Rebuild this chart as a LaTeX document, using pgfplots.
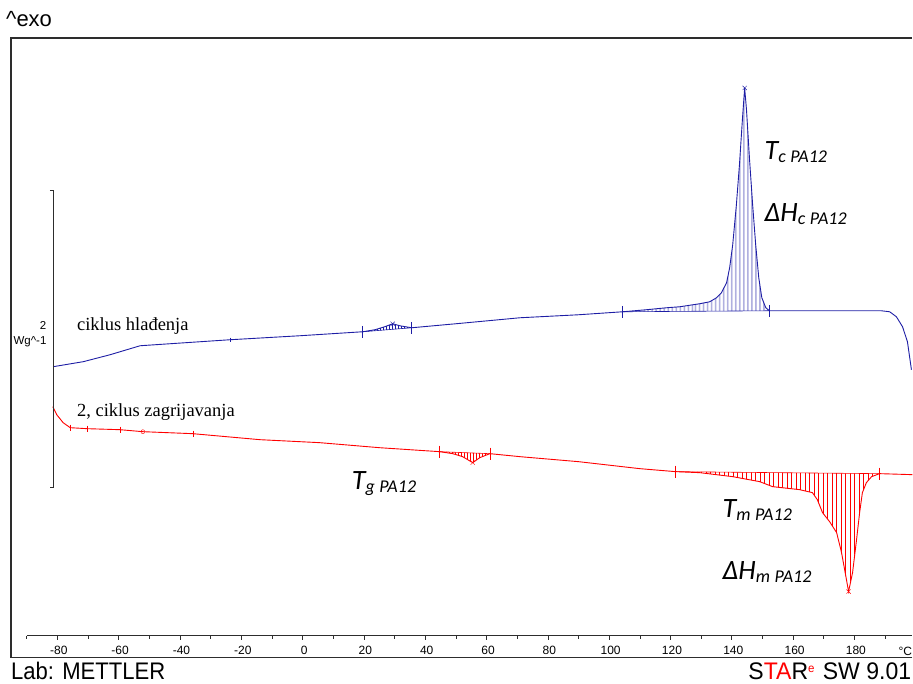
\documentclass[border=0pt]{standalone}
\usepackage{pgfplots}
\pgfplotsset{compat=1.18}
\usepgfplotslibrary{fillbetween}
\usetikzlibrary{patterns.meta}
\usepackage{graphicx}
\usepackage{fontspec}
\setmainfont{Liberation Sans}
\newfontfamily\serifl{Liberation Serif}
\newfontfamily\carlito{Carlito}
\definecolor{dscblue}{RGB}{30,30,165}
\definecolor{dscred}{RGB}{255,0,0}
\definecolor{framegray}{RGB}{45,45,45}
\newcommand{\lbl}[3]{{\carlito\itshape\fontsize{28}{30}\selectfont #1\raisebox{-3pt}{\fontsize{18}{20}\selectfont #2\hspace{0.25em}#3}}}

\begin{document}
\begin{tikzpicture}[x=1pt,y=1pt]
\draw[framegray, line width=1.3pt] (913,26) -- (11,26) -- (11,646) -- (913,646);
\begin{axis}[
  at={(26.7pt,48pt)}, anchor=south west,
  scale only axis, width=886.3pt, height=598pt,
  xmin=-90, xmax=198.9, ymin=48, ymax=646,
  axis x line=bottom, axis y line=none,
  x axis line style={-, line width=0.9pt, framegray},
  xtick={-80,-60,-40,-20,0,20,40,60,80,100,120,140,160,180},
  xticklabels={{-80},{-60},{-40},{-20},{0},{20},{40},{60},{80},{100},{120},{140},{160},{180}},
  minor xtick={-90,-70,-50,-30,-10,10,30,50,70,90,110,130,150,170,190},
  tick align=outside, major tick length=4pt, minor tick length=3pt,
  tick style={framegray, line width=0.6pt},
  xticklabel style={font=\fontsize{12}{13}\selectfont, yshift=-3pt, xshift=1.5pt},
  clip=false,
]
% cooling (blue)
\addplot[name path=bc, dscblue, line width=0.9pt] coordinates {
(-81.4,317) (-71.6,322) (-62.8,329) (-53.0,338) (-23.7,344) (-0.9,348) (19.6,352) (23.6,354) (26.8,357) (29.4,360) (31.7,358) (35.6,356) (50,360) (70.9,366) (90,369) (104.4,372) (112,374) (118.7,376) (123.0,377) (129.5,380) (132.8,382) (135.0,386) (136.6,391) (138.3,401) (139.3,416) (140.3,439) (141.5,479) (142.5,519) (143.5,566) (144.2,596) (144.8,574) (145.8,524) (146.8,479) (147.8,439) (148.8,406) (149.8,386) (151.1,376) (152.3,373) (170,373) (188.8,373) (191.5,372) (193.7,367) (195.7,357) (197.3,342) (198.6,314)
};
\addplot[name path=bb1, dscblue, line width=0.6pt] coordinates {(19.6,352) (35.6,356)};
\addplot[name path=bb2, dscblue, line width=0.6pt] coordinates {(104.4,372) (152.3,373)};
\addplot[pattern={Lines[angle=90,distance=4pt,line width=0.8pt]}, pattern color=dscblue, draw=none] fill between[of=bc and bb2, soft clip={domain=104.4:152.3}];
\addplot[pattern={Lines[angle=90,distance=3pt,line width=0.5pt]}, pattern color=dscblue, draw=none] fill between[of=bc and bb1, soft clip={domain=19.6:35.6}];
% heating (red)
\addplot[name path=rc, dscred, line width=0.9pt] coordinates {
(-81.5,277) (-80.2,269) (-78.1,261) (-75.8,256) (-70.3,255) (-59.6,254) (-52.1,252) (-35.8,250) (-13.9,244) (5.6,241) (25,236) (44.7,232) (49.0,230) (52.2,227) (55.5,221) (57.8,226) (61.1,230) (70.9,227) (90,222) (110,215) (121.7,212) (129.5,211) (140.3,207) (149.1,202) (153.3,197) (162.1,194) (166.3,191) (167.9,184) (169.6,171) (171.9,162) (174.2,151) (175.8,131) (177.4,104) (178.1,92) (179.4,111) (180.7,144) (181.7,171) (182.6,191) (183.9,201) (185.6,207) (188.2,210) (198.9,209)
};
\addplot[name path=rb1, dscred, line width=0.6pt] coordinates {(44.7,232) (61.1,230)};
\addplot[name path=rb2, dscred, line width=0.6pt] coordinates {(121.7,212) (188.2,210)};
\addplot[pattern={Lines[angle=90,distance=4.5pt,line width=0.6pt]}, pattern color=dscred, draw=none] fill between[of=rc and rb2, soft clip={domain=121.7:188.2}];
\addplot[pattern={Lines[angle=90,distance=3pt,line width=0.5pt]}, pattern color=dscred, draw=none] fill between[of=rc and rb1, soft clip={domain=44.7:61.1}];
% marks
\addplot[only marks, dscblue, mark=|, mark size=6pt, mark options={line width=0.8pt}] coordinates {(19.6,352) (35.6,356) (104.4,372) (152.3,373)};
\addplot[only marks, dscblue, mark=|, mark size=2pt] coordinates {(-23.7,344)};
\addplot[only marks, dscred, mark=|, mark size=6pt, mark options={line width=0.8pt}] coordinates {(44.7,232) (61.1,230) (121.7,212) (188.2,210)};
\addplot[only marks, dscred, mark=|, mark size=3pt] coordinates {(-75.8,256) (-70.3,255) (-59.6,254) (-35.8,250)};
\addplot[only marks, dscred, mark=o, mark size=2pt] coordinates {(-52.1,252)};
\addplot[only marks, dscblue, mark=x, mark size=3pt] coordinates {(144.2,596) (29.4,360)};
\addplot[only marks, dscred, mark=x, mark size=3pt] coordinates {(178.1,92) (55.5,221)};
\end{axis}
% scale bracket
\draw[framegray, line width=1pt] (50,493) -- (54,493) -- (54,196) -- (50,196);
\node[font=\fontsize{11.5}{13}\selectfont] at (43,358) {2};
\node[font=\fontsize{11.5}{13}\selectfont] at (30,342) {Wg\textasciicircum-1};
% texts
\node[anchor=base west, inner sep=0pt, font=\fontsize{22}{24}\selectfont] at (6,657) {\textasciicircum exo};
\node[anchor=base west, inner sep=0pt, font=\fontsize{24}{26}\selectfont] at (11,4) {\scalebox{0.92}[1]{Lab: METTLER}};
\node[anchor=base east, inner sep=0pt, font=\fontsize{24}{26}\selectfont] at (912,4) {\scalebox{0.96}[1]{S\textcolor{dscred}{TA}R\raisebox{7pt}{\fontsize{12}{12}\selectfont\textcolor{dscred}{e}}\hspace{2pt} SW 9.01}};
\node[anchor=center, inner sep=0pt, font=\fontsize{12}{13}\selectfont] at (906,32) {°C};
\node[anchor=base west, inner sep=0pt, font=\serifl\fontsize{18.5}{21}\selectfont] at (77,353) {ciklus hlađenja};
\node[anchor=base west, inner sep=0pt, font=\serifl\fontsize{18.5}{21}\selectfont] at (77,267) {2, ciklus zagrijavanja};
\node[anchor=base west, inner sep=0pt] at (765,524) {\lbl{T}{c}{PA12}};
\node[anchor=base west, inner sep=0pt] at (765,462) {\lbl{ΔH}{c}{PA12}};
\node[anchor=base west, inner sep=0pt] at (352,194) {\lbl{T}{g}{PA12}};
\node[anchor=base west, inner sep=0pt] at (723,166) {\lbl{T}{m}{PA12}};
\node[anchor=base west, inner sep=0pt] at (723,104) {\lbl{ΔH}{m}{PA12}};
\path[use as bounding box] (0,0) rectangle (913,684);
\end{tikzpicture}
\end{document}
